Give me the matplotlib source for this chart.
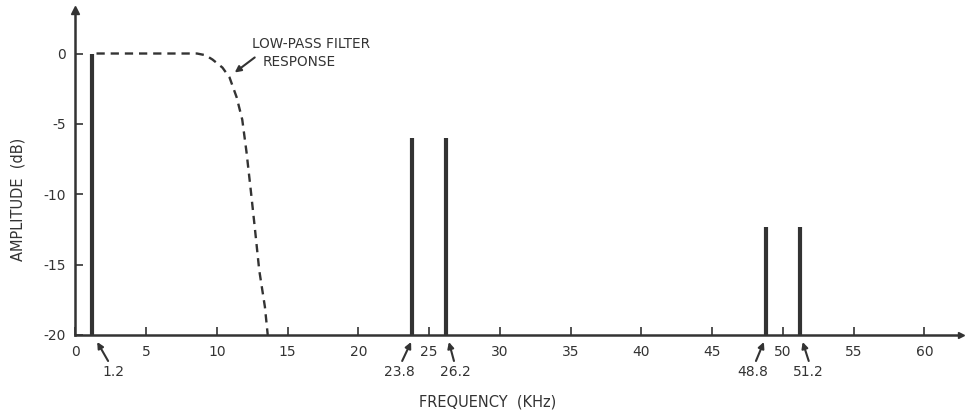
import matplotlib
matplotlib.use('Agg')
import matplotlib.pyplot as plt

plt.rcParams['font.family'] = ['DejaVu Sans']

# spectral lines (kHz, dB)
line_freqs = [1.2, 23.8, 26.2, 48.8, 51.2]
line_amps = [0.0, -6.0, -6.0, -12.3, -12.3]
line_labels = ['1.2', '23.8', '26.2', '48.8', '51.2']

# low-pass filter response
filter_f = [1.5, 5.0, 8.6, 9.2, 9.7, 10.4, 10.9, 11.4, 11.8, 12.1, 12.4, 12.7, 13.0, 13.4, 13.6]
filter_db = [0.0, 0.0, 0.0, -0.12, -0.43, -1.0, -1.7, -3.1, -4.7, -7.0, -9.7, -12.5, -15.4, -18.0, -20.0]

x_ticks = [0, 5, 10, 15, 20, 25, 30, 35, 40, 45, 50, 55, 60]
y_ticks = [0, -5, -10, -15, -20]

ink = '#333333'
fs = 10

fig = plt.figure(figsize=(9.65, 4.12), dpi=100)
ax = fig.add_axes([0.078, 0.187, 0.918, 0.789])
ax.set_xlim(0, 62.6)
ax.set_ylim(-20, 3.1)

for s in ['top', 'right']:
    ax.spines[s].set_visible(False)
for s in ['left', 'bottom']:
    ax.spines[s].set_color(ink)
    ax.spines[s].set_linewidth(1.8)

# arrow heads on the axes
ax.plot(0, 3.1, marker='^', color=ink, markersize=6, clip_on=False)
ax.plot(62.6, -20, marker='>', color=ink, markersize=5, clip_on=False)

ax.set_xticks(x_ticks)
ax.set_yticks(y_ticks)
ax.set_yticklabels(['0', '-5', '-10', '-15', '-20'])
ax.tick_params(axis='x', direction='in', length=6, width=1.2, color=ink,
               labelsize=fs, labelcolor=ink, pad=7)
ax.tick_params(axis='y', direction='in', length=6, width=1.2, color=ink,
               labelsize=fs, labelcolor=ink, pad=7)

ax.plot(filter_f, filter_db, linestyle=(0, (3.5, 2.5)), color=ink, linewidth=1.7)

ax.vlines(line_freqs, -20, line_amps, color=ink, linewidth=3)

# offsets (data units) of arrow head, arrow tail and label from each line
head_dx = [0.35, -0.07, 0.2, -0.14, 0.2]
tail_dx = [1.12, -0.7, 0.56, -0.7, 0.63]
label_dx = [1.48, -0.9, 0.63, -0.9, 0.63]

arrow_style = dict(arrowstyle='-|>', color=ink, lw=1.5, mutation_scale=9,
                   shrinkA=0, shrinkB=0)

for f, lab, hd, td, ld in zip(line_freqs, line_labels, head_dx, tail_dx, label_dx):
    ax.annotate('', xy=(f + hd, -20.5), xytext=(f + td, -21.85),
                annotation_clip=False, arrowprops=arrow_style)
    ax.text(f + ld, -22.6, lab, ha='center', va='center', fontsize=fs,
            color=ink, clip_on=False)

ax.annotate('', xy=(11.27, -1.35), xytext=(12.68, -0.28),
            annotation_clip=False, arrowprops=arrow_style)
ax.text(12.46, 0.71, 'LOW-PASS FILTER', ha='left', va='center',
        fontsize=9.8, color=ink)
ax.text(13.24, -0.6, 'RESPONSE', ha='left', va='center',
        fontsize=9.8, color=ink)

ax.set_xlabel('FREQUENCY  (KHz)', fontsize=10.5, color=ink, va='center')
ax.xaxis.set_label_coords(0.466, -0.206)
ax.set_ylabel('AMPLITUDE  (dB)', fontsize=10.5, color=ink, va='center')
ax.yaxis.set_label_coords(-0.065, 0.418)

fig.savefig('out.png', dpi=100)
